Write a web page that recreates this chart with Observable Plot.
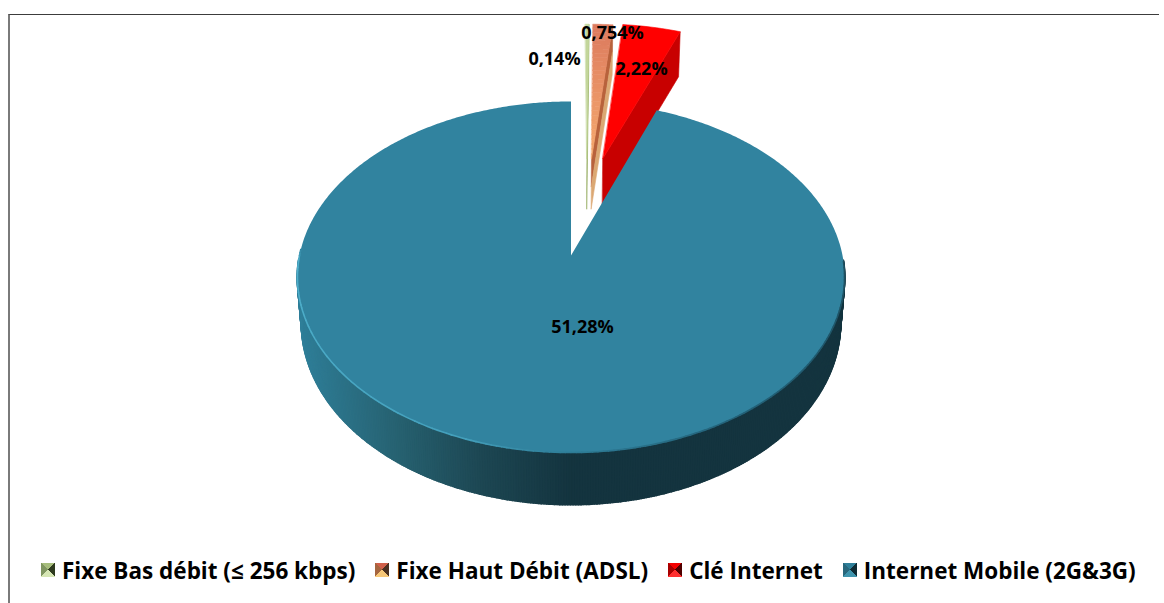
<!DOCTYPE html>
<html lang="fr">
<head>
<meta charset="utf-8">
<script src="https://cdn.jsdelivr.net/npm/d3@7"></script>
<script src="https://cdn.jsdelivr.net/npm/@observablehq/plot@0.6"></script>
<style>
  html, body { margin: 0; background: #fff; }
  #page { position: relative; width: 1164px; height: 603px; overflow: hidden; font-family: "Open Sans", sans-serif; }
  #frame { position: absolute; left: 8px; top: 14px; right: 5px; bottom: 0;
           border-top: 1.5px solid #3c3c3c; border-left: 2px solid #7a7a7a; }
  #chart { position: absolute; left: 0; top: 0; }
  #chart svg { display: block; }
  #legend { position: absolute; left: 41px; top: 545px; height: 50px; display: flex; align-items: center;
            font-weight: 700; font-size: 22.5px; color: #000; white-space: nowrap; }
  .sw { width: 14px; height: 14px; margin-right: 7px; flex: none; }
  .it { display: flex; align-items: center; margin-right: 20px; }
</style>
</head>
<body>
<div id="page">
  <div id="frame"></div>
  <div id="chart"></div>
  <div id="legend"></div>
</div>
<script>
// Data
const categories = ["Fixe Bas débit (≤ 256 kbps)", "Fixe Haut Débit (ADSL)", "Clé Internet", "Internet Mobile (2G&3G)"];
const values = [0.14, 0.754, 2.22, 51.28];
const valueLabels = ["0,14%", "0,754%", "2,22%", "51,28%"];

// Styling
const faceOuter = ["#c3d69b", "#dc7a5e", "#ff0000", "#31839f"];
const faceInner = ["#c3d69b", "#f6aa6e", "#ff0000", "#31839f"];
const wallColor = ["#93ab5e", "#b8623c", "#c80000", "#14343f"];
const swatchColors = [
  ["#a6bd7c", "#2e3a1e", "#d6e6b4", "#7f9560"],
  ["#d0604a", "#4a3020", "#f8c878", "#a5653f"],
  ["#f40000", "#500000", "#ff3030", "#a80000"],
  ["#2f7f99", "#0e2a33", "#3f94ad", "#28677c"]
];

// Pie projection: unit circle on a tilted plane -> page
const cx = 570.5, cy = 255, a = 172.9, b = 271.5, k = 0.1225;
const explode = [[0.063, -0.6], [0.081, -0.6], [0.126, -0.602], [0, 0]];
const project = (u, v) => [cx + b * u / (1 - k * v), cy + a * v / (1 - k * v)];
const depthAt = (v, d) => d + 7 * Math.max(0, v);
const bottom = (u, v, d) => {
  const [x, y] = project(u, v);
  return [cx + (x - cx) * 0.985, y + depthAt(v, d)];
};
const total = d3.sum(values);
const rad = Math.PI / 180;
let acc = 0;
const slices = values.map((val, i) => {
  const a0 = acc / total * 360; acc += val;
  return {i, a0, a1: acc / total * 360};
});
const dir = (t, r = 1) => [r * Math.sin(t * rad), -r * Math.cos(t * rad)];
const at = (s, t, r = 1) => { const [u, v] = dir(t, r); return [u + explode[s.i][0], v + explode[s.i][1]]; };

const polys = [];
const wallPolys = [];
const addPoly = (list, id, fill, pts) => pts.forEach(([x, y]) => list.push({id, fill, x, y}));

// Exploded slices: cut wall, then face
slices.slice(0, 3).forEach(s => {
  const d = s.i === 2 ? 45 : 50;
  const [uA, vA] = at(s, 0, 0);
  const [uC, vC] = at(s, s.a1, 1);
  const wallBands = s.i === 1 ? [[0, 0.55, wallColor[1]], [0.55, 1, "#dba873"]] : [[0, 1, wallColor[s.i]]];
  wallBands.forEach(([f0, f1, col], j) => {
    const p = (u, v, f) => { const [x, y] = project(u, v); const [x2, y2] = bottom(u, v, d); return [x + (x2 - x) * f, y + (y2 - y) * f]; };
    addPoly(polys, `w${s.i}-${j}`, col, [p(uA, vA, f0), p(uC, vC, f0), p(uC, vC, f1), p(uA, vA, f1)]);
  });
  const bands = s.i === 1 ? 30 : 1;
  d3.range(bands).forEach(j => {
    const r0 = j / bands, r1 = (j + 1) / bands;
    const col = d3.interpolateRgb(faceInner[s.i], faceOuter[s.i])(r1);
    const ts = d3.range(0, 13).map(n => s.a0 + (s.a1 - s.a0) * n / 12);
    const outer = ts.map(t => project(...at(s, t, r1)));
    const inner = ts.map(t => project(...at(s, t, r0))).reverse();
    addPoly(polys, `f${s.i}-${j}`, col, [...outer, ...inner]);
  });
});

// Side wall of the large slice, shaded along its width
const wallShade = d3.scaleLinear()
  .domain([296, 400, 480, 571, 845])
  .range(["#2f7f99", "#26606f", "#1d4753", "#14343f", "#14343f"])
  .interpolate(d3.interpolateRgb);
const main = slices[3];
const steps = d3.range(main.a0, 360, 0.5).concat(360);
steps.slice(0, -1).forEach((t, n) => {
  const [u0, v0] = dir(t), [u1, v1] = dir(steps[n + 1]);
  if (v0 < 0.02 || v1 < 0.02) return;
  const p0 = project(u0, v0);
  addPoly(wallPolys, `m${n}`, wallShade(p0[0]), [p0, project(u1, v1), bottom(u1, v1, 45), bottom(u0, v0, 45)]);
});

// Face of the large slice
const mainFace = [];
addPoly(mainFace, "main", faceOuter[3], [[cx, cy], ...steps.map(t => project(...dir(t)))]);

// Rim highlight on the front edge of the face
const rimColor = d3.scaleLinear()
  .domain([92, 150, 180, 200, 268, 272])
  .range(["#1d4f60", "#24637a", "#2e7c96", "#44a0bc", "#4fb0cc", "#31839f"])
  .interpolate(d3.interpolateRgb);
const rim = d3.range(92, 272.5, 1).map(t => {
  const [x, y] = project(...dir(t));
  return {x, y, c: rimColor(t)};
});

// Data labels
const labelSpots = [[554, 59], [612, 33], [641, 69], [582, 327]];
const labels = valueLabels.map((text, i) => ({text, x: labelSpots[i][0], y: labelSpots[i][1]}));

const plot = Plot.plot({
  width: 1164, height: 545,
  marginTop: 0, marginRight: 0, marginBottom: 0, marginLeft: 0,
  x: {domain: [0, 1164], range: [0, 1164], axis: null},
  y: {domain: [0, 545], range: [0, 545], axis: null},
  color: {type: "identity"},
  style: {background: "transparent"},
  marks: [
    Plot.line(polys, {x: "x", y: "y", z: "id", fill: "fill", stroke: "fill", strokeWidth: 0.6, curve: "linear-closed"}),
    Plot.line(wallPolys, {x: "x", y: "y", z: "id", fill: "fill", stroke: "fill", strokeWidth: 2, curve: "linear-closed"}),
    Plot.line(mainFace, {x: "x", y: "y", z: "id", fill: "fill", curve: "linear-closed"}),
    Plot.line(rim, {x: "x", y: "y", z: null, stroke: "c", strokeWidth: 1.6, curve: "linear"}),
    Plot.text(labels, {x: "x", y: "y", text: "text", fontFamily: "'Open Sans', sans-serif", fontWeight: 700, fontSize: 18, fill: "#000", textAnchor: "middle"})
  ]
});
document.getElementById("chart").appendChild(plot);

// Legend
const legend = document.getElementById("legend");
categories.forEach((name, i) => {
  const [t, r, bt, l] = swatchColors[i];
  const it = document.createElement("div"); it.className = "it";
  const sw = document.createElement("span"); sw.className = "sw";
  sw.style.background = `conic-gradient(from -45deg, ${t} 0 25%, ${r} 0 50%, ${bt} 0 75%, ${l} 0 100%)`;
  const tx = document.createElement("span"); tx.textContent = name;
  it.append(sw, tx);
  legend.appendChild(it);
});
</script>
</body>
</html>
